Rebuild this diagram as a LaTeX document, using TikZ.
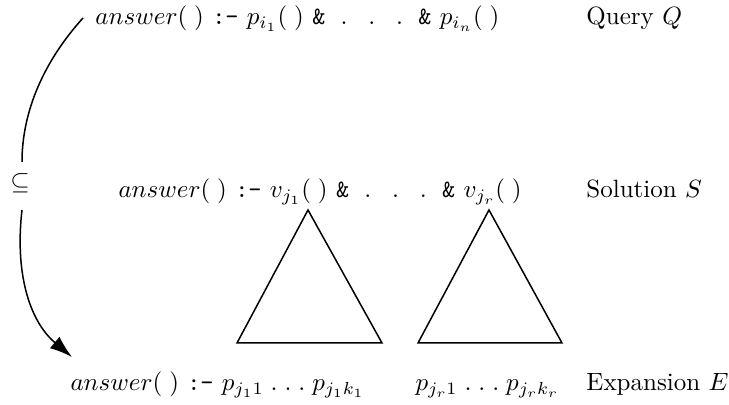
\documentclass[tikz,border=0pt]{standalone}
\usetikzlibrary{arrows.meta}

\tikzset{
    rule/.style={anchor=base west, inner sep=0pt},
    caption/.style={anchor=base west, inner sep=0pt},
    tree/.style={line width=0.6pt, line join=miter},
    incl/.style={line width=0.6pt, -{Latex[length=9pt,width=6pt]}}
}

\newcommand{\nk}{\texttt{:-}}
\newcommand{\amp}{\texttt{\&}}

\begin{document}
\begin{tikzpicture}[x=0.4pt,y=-0.4pt]

% rahmen
\useasboundingbox (0,0) rectangle (729,405);

% -------------------------------------------------
% Zeilen
% -------------------------------------------------

\node[rule] (query) at (95,25)
    {$answer(\;)$ \nk{} $p_{i_1}(\;)$ \amp{} $\;.\;\;\;.\;\;\;.\;$ \amp{} $p_{i_n}(\;)$};
\node[rule] (solution) at (118,198)
    {$answer(\;)$ \nk{} $v_{j_1}(\;)$ \amp{} $\;.\;\;\;.\;\;\;.\;$ \amp{} $v_{j_r}(\;)$};
\node[rule] (expansion) at (70,391)
    {$answer(\;)$ \nk{} $p_{j_11}\;.\;.\;.\;p_{j_1k_1}$};
\node[rule] (expansionr) at (415,391)
    {$p_{j_r1}\;.\;.\;.\;p_{j_rk_r}$};

% Beschriftungen rechts
\node[caption] (lq) at (586,25) {Query $Q$};
\node[caption] (ls) at (586,198) {Solution $S$};
\node[caption] (le) at (586,391) {Expansion $E$};

% -------------------------------------------------
% Dreiecke unter den Sichten
% -------------------------------------------------

\draw[tree] (308,210) -- (237,343) -- (382,343) -- cycle;
\draw[tree] (489,210) -- (418,343) -- (562,343) -- cycle;

% -------------------------------------------------
% Inklusionsbogen
% -------------------------------------------------

\coordinate (top) at (83,18);
\coordinate (tip) at (72,357);
\node[inner sep=0pt] (sub) at (20,183) {$\subseteq$};
\coordinate (subtop) at (22,162);
\coordinate (subbot) at (22,210);

\draw[line width=0.6pt] (top) .. controls (45,60) and (22,110) .. (subtop);
\draw[incl] (subbot) .. controls (15,270) and (28,320) .. (tip);

\end{tikzpicture}
\end{document}
